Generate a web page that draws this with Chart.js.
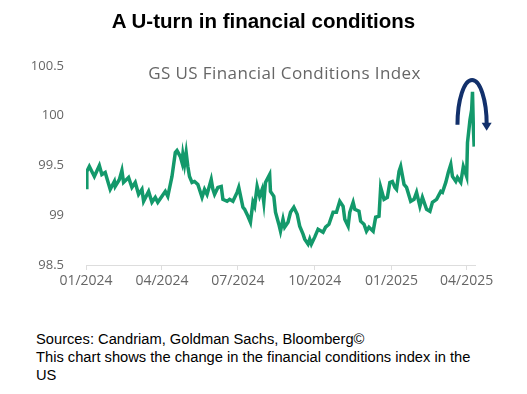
<!DOCTYPE html>
<html>
<head>
<meta charset="utf-8">
<script src="https://cdn.jsdelivr.net/npm/chart.js@4.4.1/dist/chart.umd.min.js"></script>
<style>
  html, body { margin: 0; padding: 0; background: #fff; }
  body { width: 527px; height: 394px; position: relative; overflow: hidden; font-family: 'Liberation Sans', Arial, sans-serif; }
  #title { position: absolute; top: 9px; left: 0; width: 527px; text-align: center; font-weight: bold; font-size: 20.5px; color: #000; }
  #wrap { position: absolute; top: 0; left: 0; width: 527px; height: 300px; }
  #note { position: absolute; top: 330px; left: 36px; width: 445px; font-size: 14.7px; line-height: 18px; color: #000; }
</style>
</head>
<body>
<div id="wrap"><canvas id="chart"></canvas></div>
<div id="title">A U-turn in financial conditions</div>
<div id="note">Sources: Candriam, Goldman Sachs, Bloomberg©<br>This chart shows the change in the financial conditions index in the US</div>
<script>
// days since 01/01/2024
const days = [0, 1, 4, 10, 16, 19, 23, 29, 34, 35, 40, 43, 45, 51, 55, 59, 63, 67, 69, 75,
  79, 83, 86, 91, 95, 98, 103, 107, 109, 113, 115, 116, 118, 120, 122, 124, 127, 130, 134, 139,
  142, 145, 150, 152, 154, 158, 162, 164, 169, 172, 176, 181, 183, 186, 188, 190, 194, 197, 200, 202,
  205, 208, 211, 213, 215, 220, 221, 225, 227, 231, 233, 236, 238, 242, 245, 249, 253, 256, 260, 262,
  266, 268, 270, 274, 278, 284, 287, 291, 296, 300, 304, 308, 310, 314, 316, 320, 322, 327, 329, 333,
  336, 339, 344, 347, 351, 353, 357, 361, 364, 367, 370, 372, 375, 377, 381, 384, 389, 393, 396, 400,
  403, 408, 412, 415, 420, 425, 427, 431, 434, 437, 439, 443, 445, 449, 452, 456, 457, 460, 462, 463,
  464, 465];
const fci = [99.28, 99.44, 99.49, 99.39, 99.50, 99.41, 99.43, 99.26, 99.34, 99.29, 99.36, 99.45, 99.33, 99.38, 99.28, 99.33, 99.21, 99.26, 99.14, 99.24,
  99.13, 99.18, 99.13, 99.19, 99.24, 99.19, 99.39, 99.63, 99.65, 99.59, 99.53, 99.61, 99.51, 99.63, 99.49, 99.39, 99.33, 99.34, 99.31, 99.18,
  99.26, 99.21, 99.36, 99.26, 99.21, 99.28, 99.29, 99.16, 99.14, 99.16, 99.14, 99.23, 99.28, 99.16, 99.08, 99.06, 98.99, 98.93, 99.13, 99.09,
  99.29, 99.19, 99.26, 99.13, 99.33, 99.41, 99.24, 99.19, 99.03, 98.91, 98.84, 98.96, 98.88, 98.93, 99.03, 99.08, 99.01, 98.89, 98.81, 98.76,
  98.71, 98.76, 98.71, 98.78, 98.86, 98.83, 98.88, 98.91, 99.03, 99.03, 99.14, 99.09, 98.96, 98.89, 99.03, 99.13, 99.06, 99.04, 98.94, 98.91,
  98.84, 98.88, 98.84, 98.98, 98.99, 99.28, 99.16, 99.18, 99.33, 99.34, 99.28, 99.26, 99.44, 99.49, 99.31, 99.28, 99.14, 99.16, 99.23, 99.09,
  99.18, 99.06, 99.04, 99.13, 99.16, 99.24, 99.23, 99.33, 99.43, 99.51, 99.39, 99.34, 99.38, 99.33, 99.49, 99.39, 99.73, 99.96, 100.06, 100.24,
  99.89, 99.69];
const tickDays = [0, 91, 182, 274, 366, 456];
const tickLabels = ['01/2024', '04/2024', '07/2024', '10/2024', '01/2025', '04/2025'];
const yTicks = [98.5, 99, 99.5, 100, 100.5];
const chartLabel = 'GS US Financial Conditions Index';

// U-turn arrow (data units): left foot, top, right foot
const uturn = { x0: 445, x1: 480, yFoot: 99.91, yTop: 100.36 };

const extras = {
  id: 'extras',
  afterDatasetsDraw(chart) {
    const { ctx, chartArea, scales: { x, y } } = chart;
    ctx.save();
    ctx.fillStyle = '#666';
    ctx.font = '17px "Open Sans"';
    ctx.letterSpacing = '0.4px';
    ctx.textAlign = 'center';
    ctx.textBaseline = 'middle';
    ctx.fillText(chartLabel, (chartArea.left + chartArea.right) / 2 + 4, chartArea.top + 8);
    ctx.letterSpacing = '0px';

    const l = x.getPixelForValue(uturn.x0), r = x.getPixelForValue(uturn.x1);
    const base = y.getPixelForValue(uturn.yFoot), top = y.getPixelForValue(uturn.yTop);
    const cx = (l + r) / 2, rx = (r - l) / 2, ry = base - top;
    ctx.strokeStyle = '#12306b';
    ctx.fillStyle = '#12306b';
    ctx.lineWidth = 4;
    ctx.beginPath();
    ctx.ellipse(cx, base, rx, ry, 0, Math.PI, 2 * Math.PI);
    ctx.stroke();
    ctx.beginPath();
    ctx.moveTo(r - 5, base - 2);
    ctx.lineTo(r + 5, base - 2);
    ctx.lineTo(r, base + 6);
    ctx.closePath();
    ctx.fill();
    ctx.restore();
  }
};

new Chart(document.getElementById('chart'), {
  type: 'line',
  data: {
    datasets: [{
      data: days.map((d, i) => ({ x: d, y: fci[i] })),
      borderColor: '#13996b',
      borderWidth: 3.5,
      pointRadius: 0,
      tension: 0,
      fill: false
    }]
  },
  options: {
    responsive: true,
    maintainAspectRatio: false,
    animation: false,
    layout: { padding: { top: 66, right: 52, left: 0, bottom: 0 } },
    plugins: { legend: { display: false }, tooltip: { enabled: false } },
    scales: {
      x: {
        type: 'linear',
        min: 0,
        max: 466,
        afterBuildTicks: s => { s.ticks = tickDays.map(v => ({ value: v })); },
        afterFit: s => { s.height = 35; },
        ticks: {
          callback: v => tickLabels[tickDays.indexOf(v)],
          color: '#666',
          font: { family: 'Open Sans', size: 14 },
          padding: 3,
          maxRotation: 0,
          autoSkip: false
        },
        grid: { drawOnChartArea: false, drawTicks: true, tickLength: 5, color: '#ddd' },
        border: { display: true, color: '#ddd' }
      },
      y: {
        min: 98.5,
        max: 100.5,
        afterBuildTicks: s => { s.ticks = yTicks.map(v => ({ value: v })); },
        afterFit: s => { s.width = 86; },
        ticks: {
          callback: v => String(v),
          color: '#666',
          font: { family: 'Open Sans', size: 13 },
          padding: 14
        },
        grid: { display: false },
        border: { display: false }
      }
    }
  },
  plugins: [extras]
});
</script>
</body>
</html>
